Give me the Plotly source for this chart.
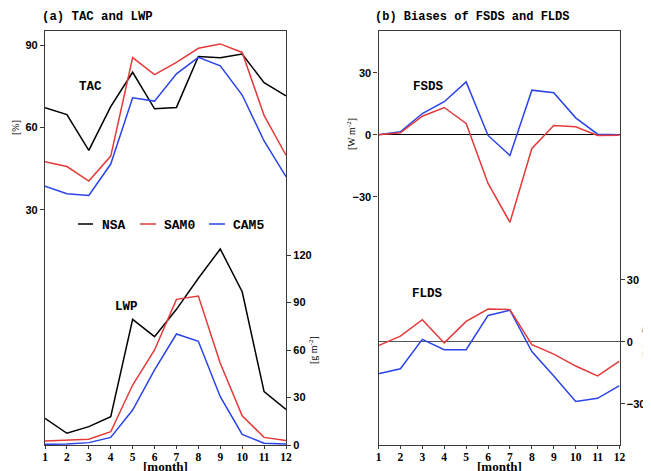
import plotly.graph_objects as go

months = list(range(1, 13))
month_labels = [str(m) for m in months]

# (a) TAC [%]
tac_nsa = [67.2, 64.7, 51.7, 67.6, 80.1, 66.8, 67.3, 85.8, 85.4, 86.7, 76.3, 71.5]
tac_sam0 = [47.5, 45.8, 40.5, 49.6, 85.4, 79.2, 83.7, 88.8, 90.4, 87.3, 64.4, 49.9]
tac_cam5 = [38.6, 35.9, 35.3, 46.7, 70.8, 69.6, 79.5, 85.5, 82.4, 71.8, 55.1, 42.1]

# (a) LWP [g m-2]
lwp_nsa = [16.8, 7.4, 11.6, 17.9, 79.4, 68.4, 85.7, 105.3, 123.8, 96.8, 33.7, 22.5]
lwp_sam0 = [2.5, 3.2, 3.6, 8.4, 37.9, 60.0, 92.0, 94.1, 51.6, 18.5, 4.8, 2.9]
lwp_cam5 = [0.4, 0.6, 1.5, 4.8, 22.1, 47.4, 70.1, 65.5, 30.5, 6.7, 1.1, 0.6]

# (b) FSDS bias [W m-2]
fsds_sam0 = [0.0, 1.0, 9.0, 13.2, 5.5, -23.5, -42.3, -6.6, 4.5, 3.9, -0.3, -0.2]
fsds_cam5 = [0.0, 1.5, 10.3, 16.0, 25.6, -0.3, -10.0, 21.6, 20.3, 8.2, 0.3, 0.0]

# (b) FLDS bias [W m-2]
flds_sam0 = [-1.9, 2.7, 10.6, -0.6, 9.8, 15.8, 15.5, -1.5, -6.0, -11.8, -16.6, -9.4]
flds_cam5 = [-15.5, -13.1, 1.1, -3.9, -3.9, 12.7, 15.2, -4.8, -16.6, -28.9, -27.4, -21.3]

BLACK = "#000000"
RED = "#e53a3a"
BLUE = "#2a44ea"
LW = 1.5
OFF = 8  # page body margin
W, H = 651 - OFF, 471 - OFF

fig = go.Figure()

def add(x, y, color, xa, ya, name):
    fig.add_trace(go.Scatter(x=x, y=y, mode="lines", name=name,
                             line=dict(color=color, width=LW),
                             xaxis=xa, yaxis=ya, showlegend=False,
                             hoverinfo="x+y"))

add(months, tac_nsa, BLACK, "x", "y", "NSA")
add(months, tac_sam0, RED, "x", "y", "SAM0")
add(months, tac_cam5, BLUE, "x", "y", "CAM5")
add(months, lwp_nsa, BLACK, "x", "y2", "NSA")
add(months, lwp_sam0, RED, "x", "y2", "SAM0")
add(months, lwp_cam5, BLUE, "x", "y2", "CAM5")
add(months, fsds_cam5, BLUE, "x2", "y3", "CAM5")
add(months, fsds_sam0, RED, "x2", "y3", "SAM0")
add(months, flds_cam5, BLUE, "x2", "y4", "CAM5")
add(months, flds_sam0, RED, "x2", "y4", "SAM0")

def px(x):
    return (x - OFF) / W

def py(y):
    return 1 - (y - OFF) / H

ydom = [py(445), py(31)]
FRAME = "#3a3a3a"
tickfont = dict(family="Liberation Sans", size=11, color="black", weight="bold")
monthfont = dict(family="Liberation Serif", size=11.5, color="black", weight="bold")

xcommon = dict(range=[1, 12], tickvals=months, ticktext=month_labels,
               ticks="outside", ticklen=3, tickwidth=1.2, tickcolor=FRAME,
               showline=True, linecolor=FRAME, linewidth=1.2, mirror=True,
               showgrid=False, zeroline=False, tickfont=monthfont, ticklabelstandoff=-2,
               automargin=False)
ycommon = dict(showgrid=False, ticks="outside", ticklen=4, tickwidth=1.2, tickcolor=FRAME,
               showline=True, linecolor=FRAME, linewidth=1.2, tickfont=tickfont,
               automargin=False)

fig.update_layout(
    width=W, height=H, autosize=False,
    margin=dict(l=0, r=0, t=0, b=0),
    paper_bgcolor="white", plot_bgcolor="rgba(0,0,0,0)",
    showlegend=False,
    xaxis=dict(domain=[px(45), px(286)], anchor="y", **xcommon),
    yaxis=dict(domain=ydom, anchor="x", range=[-55.5, 95.1], tickvals=[30, 60, 90],
               zeroline=False, mirror=True, **ycommon),
    yaxis2=dict(overlaying="y", side="right", anchor="x", range=[0, 261.5],
                tickvals=[0, 30, 60, 90, 120], zeroline=False, **ycommon),
    xaxis2=dict(domain=[px(378.5), px(619.5)], anchor="y3", **xcommon),
    yaxis3=dict(domain=ydom, anchor="x2", range=[-150, 50.2], tickvals=[-30, 0, 30],
                zeroline=True, zerolinecolor="#000000", zerolinewidth=1.2,
                mirror=True, **ycommon),
    yaxis4=dict(overlaying="y3", side="right", anchor="x2", range=[-50, 150.3],
                tickvals=[-30, 0, 30], zeroline=True, zerolinecolor="#555555",
                zerolinewidth=1.2, **ycommon),
)

mono = "Liberation Mono"
serif = "Liberation Serif"

def ann(text, x, y, size=12.5, family=mono, angle=0, xanchor="center", weight="bold"):
    fig.add_annotation(text=text, x=px(x), y=py(y), xref="paper", yref="paper",
                       showarrow=False, textangle=angle, xanchor=xanchor, yanchor="middle",
                       font=dict(family=family, size=size, color="black", weight=weight))

ann("(a) TAC and LWP", 40, 17, size=12.3, xanchor="left")
ann("(b) Biases of FSDS and FLDS", 373, 17, size=12, xanchor="left")
ann("TAC", 90, 87)
ann("LWP", 126, 307)
ann("FSDS", 428, 87)
ann("FLDS", 427, 294)
ann("[%]", 16, 128, size=10, family=serif, angle=-90, weight="normal")
ann("[g m<sup>-2</sup>]", 313, 350, size=10, family=serif, angle=-90, weight="normal")
ann("[W m<sup>-2</sup>]", 351, 134, size=10, family=serif, angle=-90, weight="normal")
ann("[W m<sup>-2</sup>]", 646, 342, size=10, family=serif, angle=-90, weight="normal")
ann("[month]", 165.5, 466, size=13, family=serif)
ann("[month]", 499, 466, size=13, family=serif)

# legend
legend_items = [("NSA", BLACK, 78, 93, 100), ("SAM0", RED, 140, 156, 162), ("CAM5", BLUE, 209, 225, 231)]
for name, color, x0, x1, xt in legend_items:
    fig.add_shape(type="line", xref="paper", yref="paper", x0=px(x0), x1=px(x1),
                  y0=py(224), y1=py(224), line=dict(color=color, width=LW))
    ann(name, xt, 225, size=13, xanchor="left")

fig.write_html("out.html")
